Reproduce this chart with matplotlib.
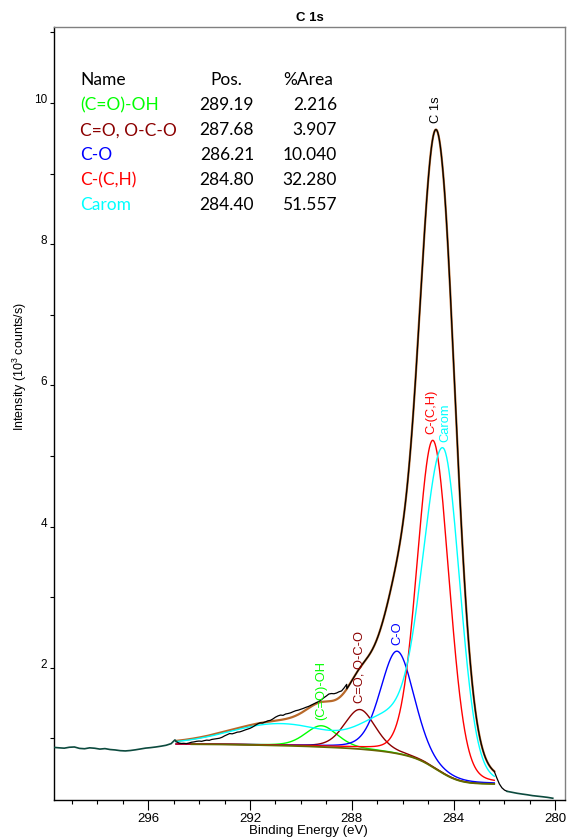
import numpy as np
import matplotlib
matplotlib.use("Agg")
import matplotlib.pyplot as plt
from matplotlib import font_manager
from matplotlib.ticker import MultipleLocator

W, H = 567, 840

# peak table of the C 1s fit
peak_names = ["(C=O)-OH", "C=O, O-C-O", "C-O", "C-(C,H)", "Carom"]
peak_pos = [289.19, 287.68, 286.21, 284.80, 284.40]
peak_area = [2.216, 3.907, 10.040, 32.280, 51.557]
peak_colors = ["#00ff00", "#8b0000", "#0000ff", "#ff0000", "#00ffff"]

# line shapes: height above background (10^3 counts/s), half widths, lorentzian share
peak_height = [0.30, 0.56, 1.45, 4.63, 4.57]
hw_high = [0.75, 0.72, 0.78, 0.74, 0.94]  # towards higher binding energy
hw_low = [0.75, 0.72, 0.78, 0.74, 0.77]
lor_share = [0.3, 0.3, 0.25, 0.12, 0.12]

# loss tail carried by the aromatic component
carom_tail_pos = [286.6, 290.8]
carom_tail_height = [0.40, 0.30]
carom_tail_fwhm = [2.4, 4.6]

# shirley background end levels and fit window
bg_low, bg_high = 0.355, 0.918
fit_lo, fit_hi = 282.4, 294.9
bg_stop = 294.3

# measured counts outside the steep part of the peak
left_be = [299.7, 299.5, 299.3, 299.1, 298.9, 298.7, 298.5, 298.3, 298.1, 297.9,
           297.7, 297.5, 297.3, 297.1, 296.9, 296.7, 296.5, 296.3, 296.1, 295.9,
           295.7, 295.5, 295.3, 295.1, 294.95, 294.9]
left_cps = [0.872, 0.866, 0.861, 0.874, 0.878, 0.858, 0.853, 0.866, 0.860, 0.848,
            0.855, 0.842, 0.836, 0.826, 0.822, 0.828, 0.838, 0.850, 0.862, 0.869,
            0.878, 0.889, 0.902, 0.925, 0.978, 0.955]

wing_be = [294.9, 294.8, 294.7, 294.6, 294.5, 294.4, 294.3, 294.2, 294.1, 294.0,
           293.9, 293.8, 293.7, 293.6, 293.5, 293.4, 293.3, 293.2, 293.1, 293.0,
           292.9, 292.8, 292.7, 292.6, 292.5, 292.4, 292.3, 292.2, 292.1, 292.0,
           291.9, 291.8, 291.7, 291.6, 291.5, 291.4, 291.3, 291.2, 291.1, 291.0,
           290.9, 290.8, 290.7, 290.6, 290.5, 290.4, 290.3, 290.2, 290.1, 290.0,
           289.9, 289.8, 289.7, 289.6, 289.5, 289.4, 289.3, 289.2, 289.1, 289.0,
           288.9, 288.8, 288.7, 288.6, 288.5, 288.4, 288.3, 288.2]
wing_cps = [0.955, 0.935, 0.928, 0.930, 0.926, 0.934, 0.945, 0.950, 0.958, 0.962,
            0.958, 0.968, 0.975, 0.972, 0.985, 0.990, 0.996, 1.002, 1.015, 1.035,
            1.052, 1.068, 1.064, 1.075, 1.088, 1.092, 1.104, 1.118, 1.130, 1.142,
            1.160, 1.182, 1.205, 1.220, 1.218, 1.232, 1.248, 1.255, 1.275, 1.300,
            1.318, 1.330, 1.326, 1.345, 1.352, 1.362, 1.378, 1.392, 1.400, 1.412,
            1.425, 1.440, 1.452, 1.470, 1.488, 1.505, 1.522, 1.545, 1.575, 1.600,
            1.628, 1.635, 1.632, 1.642, 1.660, 1.672, 1.715, 1.765]

tail_be = [282.3, 282.2, 282.1, 282.0, 281.9]
tail_cps = [0.44, 0.355, 0.30, 0.268, 0.25]

right_be = [281.9, 281.7, 281.5, 281.3, 281.1, 280.9, 280.7, 280.5, 280.3, 280.1]
right_cps = [0.25, 0.236, 0.222, 0.211, 0.201, 0.189, 0.181, 0.173, 0.164, 0.152]

INK = "#000000"
TEAL = "#0c4a3e"
OLIVE = "#666600"
ENVELOPE = "#b8692a"


def gl(x, pos, hw_hi, hw_lo, mix):
    hw = np.where(x >= pos, hw_hi, hw_lo)
    u2 = ((x - pos) / hw) ** 2
    return (1 - mix) * np.exp(-np.log(2) * u2) + mix / (1 + u2)


def px(x, y):
    return x / W, 1 - y / H


font_names = {f.name for f in font_manager.fontManager.ttflist}
SANS = "Liberation Sans" if "Liberation Sans" in font_names else "DejaVu Sans"
NARROW = "Liberation Sans Narrow" if "Liberation Sans Narrow" in font_names else SANS
TABLE = "Lato" if "Lato" in font_names else SANS

plt.rcParams["font.family"] = SANS
plt.rcParams["mathtext.default"] = "regular"

be = np.linspace(fit_lo, fit_hi, 2501)
comps = []
for i in range(len(peak_pos)):
    c = peak_height[i] * gl(be, peak_pos[i], hw_high[i], hw_low[i], lor_share[i])
    if peak_names[i] == "Carom":
        for tp, th, tw in zip(carom_tail_pos, carom_tail_height, carom_tail_fwhm):
            c = c + th * gl(be, tp, tw / 2, tw / 2, 0.0)
    comps.append(c)
total = np.sum(comps, axis=0)

# shirley step follows the cumulative peak area from the low energy end
cum = np.concatenate([[0.0], np.cumsum(0.5 * (total[1:] + total[:-1]) * np.diff(be))])
bg = bg_low + (bg_high - bg_low) * cum / cum[-1]
envelope = bg + total

fig = plt.figure(figsize=(W / 100, H / 100), dpi=100)
ax = fig.add_axes([54.3 / W, 40 / H, (565 - 54.3) / W, (800 - 26.7) / H])

ax.plot(be, envelope, color=ENVELOPE, lw=1.6, zorder=2)
for c, col in zip(comps, peak_colors):
    ax.plot(be, bg + c, color=col, lw=1.0, zorder=3)
keep = be <= bg_stop
ax.plot(be[keep], bg[keep], color=OLIVE, lw=1.3, zorder=4)

# measured spectrum: black across the fit, dark teal outside it
core = be < wing_be[-1]
black_x = np.concatenate([wing_be, be[core][::-1], tail_be])
black_y = np.concatenate([wing_cps, envelope[core][::-1], tail_cps])
ax.plot(black_x, black_y, color=INK, lw=0.9, zorder=5)
ax.plot(left_be, left_cps, color=TEAL, lw=1.2, zorder=5)
ax.plot(right_be, right_cps, color=TEAL, lw=1.2, zorder=5)

# rotated peak labels above each component maximum
label_dx = {"C-(C,H)": -1.6, "Carom": 1.6}
for c, name, col in zip(comps, peak_names, peak_colors):
    k = np.argmax(c)
    ax.annotate(name, (be[k], bg[k] + c[k]), xytext=(label_dx.get(name, 0), 4.5),
                textcoords="offset points", rotation=90, ha="center", va="bottom",
                fontsize=9.3, color=col, zorder=6)
k = np.argmax(envelope)
ax.annotate("C 1s", (be[k], envelope[k]), xytext=(0, 4.5), textcoords="offset points",
            rotation=90, ha="center", va="bottom", fontsize=9.3, color=INK, zorder=6)

ax.set_xlim(299.69, 279.62)
ax.set_ylim(0.127, 11.08)
ax.xaxis.set_major_locator(MultipleLocator(4))
ax.xaxis.set_minor_locator(MultipleLocator(1))
ax.set_yticks([2, 4, 6, 8, 10])
ax.yaxis.set_minor_locator(MultipleLocator(1))
ax.tick_params(axis="x", which="major", direction="out", length=7.2, width=0.8,
               pad=2, labelsize=9.5)
ax.tick_params(axis="x", which="minor", direction="out", length=3, width=0.8)
ax.tick_params(axis="y", which="both", direction="out", length=3, width=0.8,
               pad=2, labelsize=8.5)
for t in ax.yaxis.get_major_ticks():
    t.label1.set_verticalalignment("baseline")

for side in ("left", "bottom"):
    ax.spines[side].set_linewidth(1.0)
for side in ("top", "right"):
    ax.spines[side].set_linewidth(1.0)
    ax.spines[side].set_color("#808080")

fig.text(*px(309.5, 18), "C 1s", ha="center", va="center", fontsize=9.5,
         fontweight="bold")
fig.text(*px(308, 831), "Binding Energy (eV)", ha="center", va="center", fontsize=9.5)
fig.text(*px(20, 367), "Intensity (10$^3$ counts/s)", rotation=90, ha="center",
         va="center", fontsize=9, family=NARROW)

# peak table
rows_y = [85.3, 110.3, 135.3, 160.3, 185.3, 210.3]
fig.text(*px(80, rows_y[0]), "Name", fontsize=12.5, family=TABLE, va="baseline")
fig.text(*px(226, rows_y[0]), "Pos.", fontsize=12.5, family=TABLE, va="baseline",
         ha="center")
fig.text(*px(308, rows_y[0]), "%Area", fontsize=12.5, family=TABLE, va="baseline",
         ha="center")
for y, name, pos, area, col in zip(rows_y[1:], peak_names, peak_pos, peak_area,
                                   peak_colors):
    fig.text(*px(80, y), name, fontsize=12.5, family=TABLE, va="baseline", color=col)
    fig.text(*px(254, y), f"{pos:.2f}", fontsize=12.5, family=TABLE, va="baseline",
             ha="right")
    fig.text(*px(337, y), f"{area:.3f}", fontsize=12.5, family=TABLE, va="baseline",
             ha="right")

fig.savefig("out.png", dpi=100, facecolor="white")
